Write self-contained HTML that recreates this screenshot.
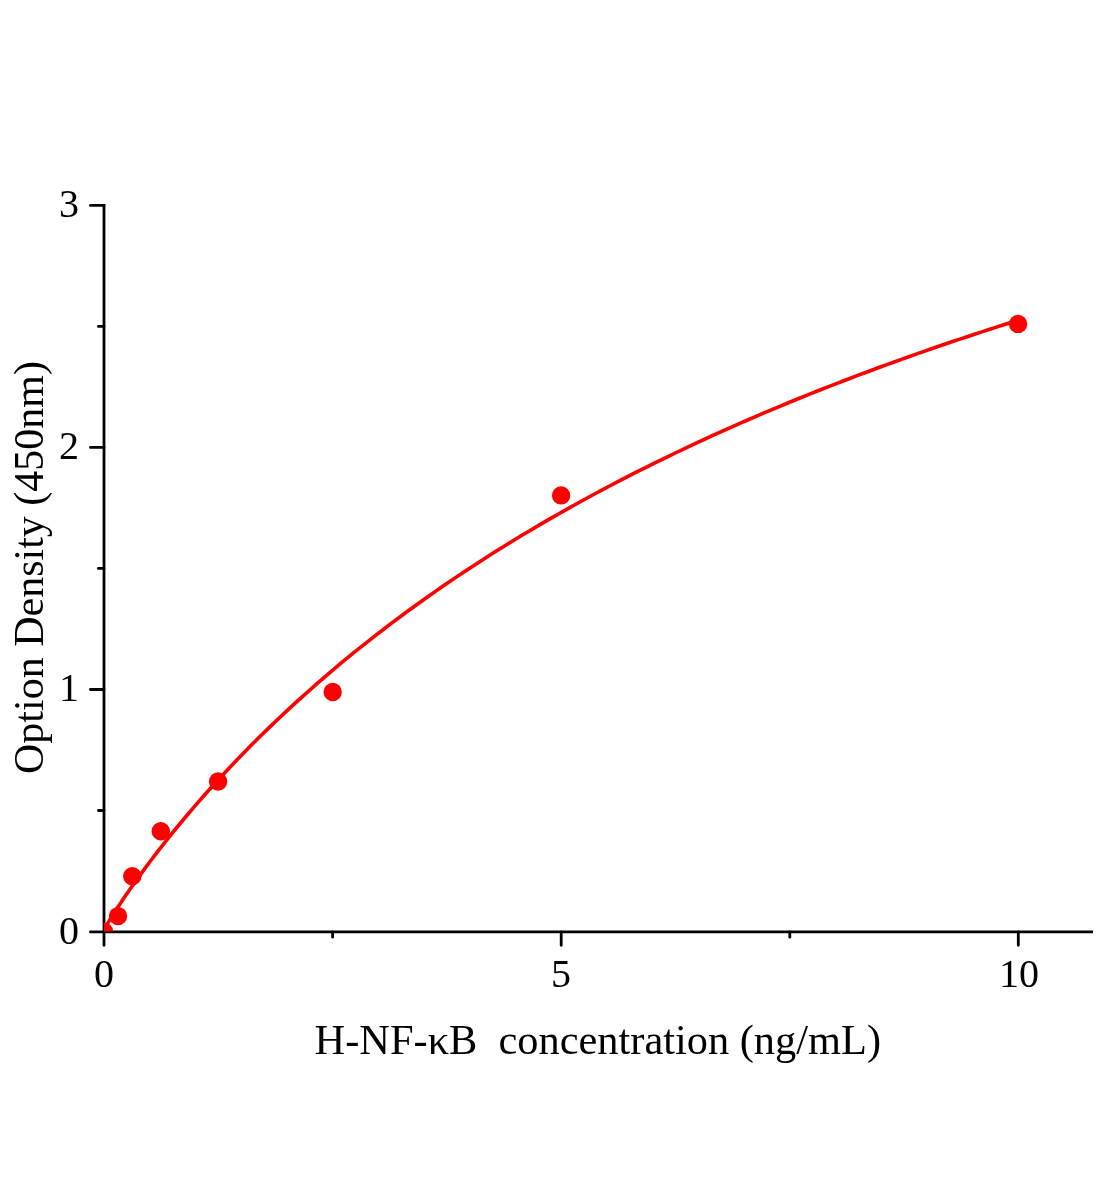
<!DOCTYPE html>
<html><head><meta charset="utf-8"><style>
html,body{margin:0;padding:0;background:#fff;width:1104px;height:1200px;overflow:hidden}
svg{display:block;will-change:transform}
text{font-family:"Liberation Serif",serif;fill:#000}
</style></head><body>
<svg width="1104" height="1200" viewBox="0 0 1104 1200">
<g stroke="#000" stroke-width="2.8" fill="none" stroke-linecap="butt">
<path d="M104,204 V932"/>
<path d="M104,931.8 H1093"/>
</g>
<g stroke="#000" stroke-width="2.8" fill="none" stroke-linecap="round">
<path d="M90.4,931.8 H104 M90.4,205.4 H104 M90.4,447.4 H104 M90.4,689.5 H104"/>
<path d="M98.4,326.4 H104 M98.4,568.4 H104 M98.4,810.5 H104"/>
<path d="M104,931.8 V945.3 M561.2,931.8 V945.3 M1018.3,931.8 V945.3"/>
<path d="M332.6,931.8 V937.2 M789.8,931.8 V937.2"/>
</g>
<defs><clipPath id="pa"><rect x="104" y="150" width="1000" height="781.6"/></clipPath></defs>
<g clip-path="url(#pa)">
<path d="M104.00,930.01 L105.83,926.60 L107.66,923.46 L109.49,920.42 L111.31,917.45 L113.14,914.53 L114.97,911.65 L116.80,908.82 L118.63,906.02 L120.46,903.25 L122.29,900.51 L124.11,897.80 L125.94,895.11 L127.77,892.45 L129.60,889.81 L131.43,887.19 L133.26,884.59 L135.09,882.01 L136.91,879.45 L138.74,876.91 L140.57,874.39 L142.40,871.89 L144.23,869.40 L146.06,866.93 L147.89,864.48 L149.72,862.04 L157.01,852.46 L164.31,843.10 L171.61,833.96 L178.91,825.01 L186.21,816.26 L193.51,807.68 L200.81,799.27 L208.11,791.02 L215.41,782.93 L222.71,774.99 L230.00,767.18 L237.30,759.52 L244.60,751.99 L251.90,744.59 L259.20,737.31 L266.50,730.16 L273.80,723.12 L281.10,716.19 L288.40,709.37 L295.70,702.66 L302.99,696.05 L310.29,689.55 L317.59,683.14 L324.89,676.83 L332.19,670.61 L339.49,664.48 L346.79,658.44 L354.09,652.48 L361.39,646.61 L368.69,640.83 L375.99,635.12 L383.28,629.49 L390.58,623.93 L397.88,618.46 L405.18,613.05 L412.48,607.72 L419.78,602.45 L427.08,597.26 L434.38,592.13 L441.68,587.06 L448.98,582.07 L456.27,577.13 L463.57,572.25 L470.87,567.44 L478.17,562.68 L485.47,557.99 L492.77,553.35 L500.07,548.76 L507.37,544.23 L514.67,539.75 L521.97,535.33 L529.26,530.96 L536.56,526.63 L543.86,522.36 L551.16,518.14 L558.46,513.96 L565.76,509.83 L573.06,505.75 L580.36,501.71 L587.66,497.72 L594.96,493.77 L602.26,489.86 L609.55,486.00 L616.85,482.17 L624.15,478.39 L631.45,474.65 L638.75,470.95 L646.05,467.28 L653.35,463.66 L660.65,460.07 L667.95,456.52 L675.25,453.00 L682.54,449.53 L689.84,446.08 L697.14,442.67 L704.44,439.30 L711.74,435.96 L719.04,432.65 L726.34,429.37 L733.64,426.13 L740.94,422.91 L748.24,419.73 L755.53,416.58 L762.83,413.46 L770.13,410.37 L777.43,407.31 L784.73,404.27 L792.03,401.27 L799.33,398.29 L806.63,395.34 L813.93,392.42 L821.23,389.52 L828.53,386.65 L835.82,383.81 L843.12,380.99 L850.42,378.20 L857.72,375.43 L865.02,372.69 L872.32,369.97 L879.62,367.28 L886.92,364.61 L894.22,361.96 L901.52,359.33 L908.81,356.73 L916.11,354.15 L923.41,351.59 L930.71,349.06 L938.01,346.54 L945.31,344.05 L952.61,341.58 L959.91,339.12 L967.21,336.69 L974.51,334.28 L981.80,331.89 L989.10,329.52 L996.40,327.16 L1003.70,324.83 L1011.00,322.52 L1018.30,320.22" fill="none" stroke="#ff0000" stroke-width="3.6" stroke-linejoin="round"/>
<g fill="#ff0000">
<circle cx="104" cy="931.6" r="9.2"/>
<circle cx="118" cy="916.1" r="9.2"/>
<circle cx="132.3" cy="876.3" r="9.2"/>
<circle cx="160.8" cy="831.3" r="9.2"/>
<circle cx="218.1" cy="781.5" r="9.2"/>
<circle cx="332.7" cy="692" r="9.2"/>
<circle cx="561.1" cy="495.4" r="9.2"/>
<circle cx="1018.1" cy="323.9" r="9.2"/>
</g>
</g>
<g font-size="40" text-anchor="end">
<text x="79" y="217">3</text>
<text x="79" y="459">2</text>
<text x="79" y="701">1</text>
<text x="79" y="943.5">0</text>
</g>
<g font-size="40" text-anchor="middle">
<text x="104" y="987">0</text>
<text x="561" y="987">5</text>
<text x="1019" y="987">10</text>
</g>
<text x="314.6" y="1054" font-size="42.4" xml:space="preserve">H-NF-κB  concentration (ng/mL)</text>
<text transform="translate(43,774) rotate(-90)" font-size="42">Option Density (450nm)</text>
</svg>
</body></html>
